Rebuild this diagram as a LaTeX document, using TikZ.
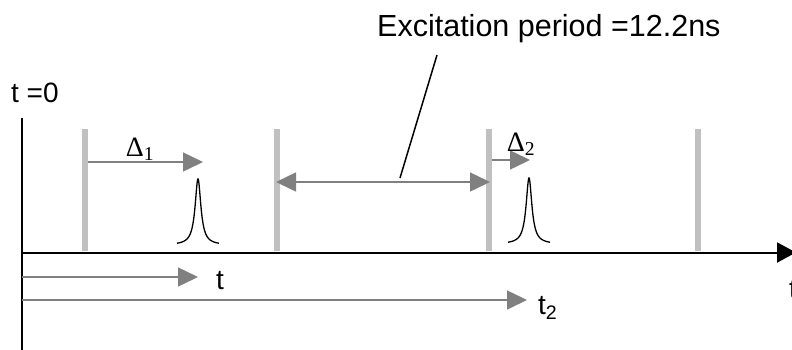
\documentclass[tikz,border=0pt]{standalone}
\usepackage{fontspec}
\setmainfont{Liberation Sans}
\newfontfamily\deltafont{Liberation Serif}
\usetikzlibrary{arrows.meta}
\definecolor{bargray}{HTML}{C0C0C0}
\definecolor{arrgray}{HTML}{808080}
\begin{document}
\begin{tikzpicture}[x=1pt,y=-1pt,
  bar/.style={draw=bargray,line width=6pt},
  garrow/.style={draw=arrgray,line width=1.5pt,-{Triangle[length=20pt,width=19pt]}},
  gdarrow/.style={draw=arrgray,line width=1.5pt,{Triangle[length=20pt,width=19pt]}-{Triangle[length=20pt,width=19pt]}},
  axisline/.style={draw=black,line width=2pt},
  lbl/.style={font=\fontsize{28}{30}\selectfont,inner sep=0pt},
  biglbl/.style={font=\fontsize{30.5}{32}\selectfont,inner sep=0pt},
  dlbl/.style={font=\deltafont\fontsize{28}{30}\selectfont,inner sep=0pt},
  pulse/.style={draw=black,line width=1.3pt},
  leader/.style={draw=black,line width=1.5pt}]
\useasboundingbox (0,0) rectangle (792,349);
% vertical line at t=0
\coordinate (v0) at (22,118);
\coordinate (v1) at (22,352);
\draw[axisline] (v0) -- (v1);
% gray bars
\foreach \i/\xx in {1/85,2/277,3/489,4/698}{
  \coordinate (b\i top) at (\xx,129);
  \coordinate (b\i bot) at (\xx,251);
  \draw[bar] (b\i top) -- (b\i bot);
}
% time axis
\coordinate (a0) at (21,252.5);
\coordinate (a1) at (796,252.5);
\draw[axisline,-{Triangle[length=19pt,width=20pt]}] (a0) -- (a1);
% delta arrows
\coordinate (d1s) at (88,162);
\coordinate (d1e) at (203,162);
\draw[garrow] (d1s) -- (d1e);
\coordinate (d2s) at (492,160);
\coordinate (d2e) at (530,160);
\draw[garrow] (d2s) -- (d2e);
% excitation period double arrow
\coordinate (ps) at (276,182);
\coordinate (pe) at (490,182);
\draw[gdarrow] (ps) -- (pe);
% t and t2 arrows
\coordinate (ts) at (22,277);
\coordinate (te) at (198,277);
\draw[garrow] (ts) -- (te);
\coordinate (t2s) at (22,300);
\coordinate (t2e) at (527,300);
\draw[garrow] (t2s) -- (t2e);
% pulses
\draw[pulse] plot[domain=-21:21,samples=161,smooth] ({198+\x},{245-66/(1+(\x/3.5)^2)});
\draw[pulse] plot[domain=-21:21,samples=161,smooth] ({529+\x},{244-66/(1+(\x/3.5)^2)});
% labels
\node[lbl,anchor=base west] (t0) at (11,102) {t =0};
\node[biglbl,anchor=base west] (exc) at (377,36) {Excitation period =12.2ns};
\node[dlbl,anchor=base] (D1) at (140,156) {Δ\textsubscript{1}};
\node[dlbl,anchor=base] (D2) at (521,151) {Δ\textsubscript{2}};
\node[lbl,anchor=base west] (tl) at (216,289) {t};
\node[lbl,anchor=base west] (t2l) at (538,314) {t\textsubscript{2}};
\node[lbl,anchor=base west] (tax) at (789,298) {t};
% leader line
\coordinate (l0) at (400,178);
\coordinate (l1) at (437,55);
\draw[leader] (l0) -- (l1);
\end{tikzpicture}
\end{document}
